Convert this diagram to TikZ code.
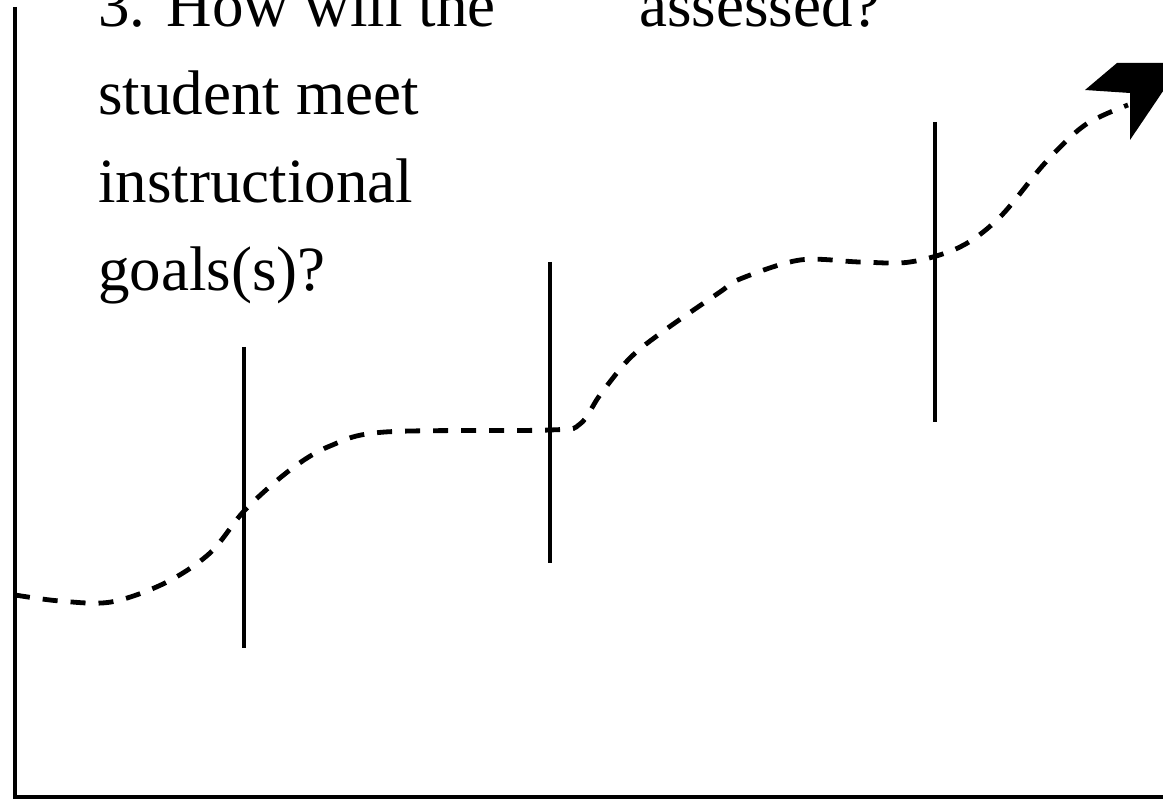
\documentclass[tikz,border=0pt]{standalone}
\usepackage{fontspec}
\setmainfont{Liberation Serif}

\begin{document}
\begin{tikzpicture}[
  x=0.5pt, y=-0.5pt,
  axis/.style={line width=1.8pt},
  marker/.style={line width=1.8pt},
  trend/.style={line width=2.4pt, dash pattern=on 7.5pt off 6.5pt},
  qtext/.style={font=\fontsize{31.5}{44}\selectfont, inner sep=0pt, align=left, anchor=base west},
]
\useasboundingbox (0,0) rectangle (1163,802);
\clip (0,0) rectangle (1163,802);

% ---- axes ------------------------------------------------------------------
\coordinate (top) at (15,7);
\coordinate (origin) at (15,797);
\coordinate (right) at (1170,797);
\draw[axis] (top) -- (origin) -- (right);

% ---- questions (cut by the frame) --------------------------------------------
% base of a multi-line node is its last line
\node[qtext] (q3) at (98,291) {3. How will the\\student meet\\instructional\\goals(s)?};
\node[qtext] (q2) at (639,27) {assessed?};

% ---- markers ---------------------------------------------------------------
\foreach \x/\a/\b in {244/347/648, 550/262/563, 935/122/422}{
  \draw[marker] (\x,\a) -- (\x,\b);
}

% ---- progress line ---------------------------------------------------------
\draw[trend] plot[smooth, tension=0.55] coordinates {
  (15,595) (60,601) (111,602) (165,583) (210,553) (245,510) (290,470)
  (330,446) (385,432) (550,430) (580,424) (600,395) (630,358) (665,330)
  (720,292) (740,279) (800,260) (860,262) (910,262) (960,247) (1000,217)
  (1045,163) (1085,125) (1128,105)};
% arrow head, tip runs past the frame
\fill (1085,90) -- (1117,63) -- (1182,63) -- (1130,140) -- (1130,93) -- cycle;
\end{tikzpicture}
\end{document}
